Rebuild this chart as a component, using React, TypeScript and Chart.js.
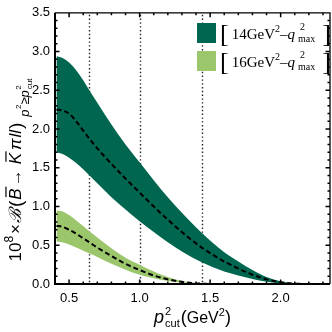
import React, { useEffect, useRef } from "react";
import { Chart, registerables } from "chart.js";
Chart.register(...registerables);

// ---- data ----
const xDark = [0.41, 0.45, 0.5, 0.55, 0.6, 0.65, 0.7, 0.8, 0.9, 1.0, 1.1, 1.2, 1.3, 1.44, 1.6, 1.7, 1.8, 1.9, 2.0, 2.1, 2.2];
const darkUpper = [2.94, 2.92, 2.86, 2.76, 2.63, 2.48, 2.34, 2.06, 1.80, 1.57, 1.34, 1.12, 0.92, 0.66, 0.41, 0.29, 0.18, 0.09, 0.035, 0.008, 0];
const darkCenter = [2.25, 2.24, 2.20, 2.10, 1.98, 1.86, 1.75, 1.55, 1.36, 1.18, 1.00, 0.83, 0.67, 0.47, 0.29, 0.20, 0.12, 0.06, 0.022, 0.005, 0];
const darkLower = [1.70, 1.68, 1.63, 1.56, 1.48, 1.39, 1.30, 1.12, 0.96, 0.81, 0.67, 0.54, 0.42, 0.28, 0.16, 0.11, 0.065, 0.03, 0.01, 0.002, 0];

const xLight = [0.41, 0.45, 0.5, 0.55, 0.6, 0.65, 0.7, 0.8, 0.9, 1.0, 1.1, 1.2, 1.3, 1.4, 1.5];
const lightUpper = [0.95, 0.94, 0.89, 0.82, 0.75, 0.67, 0.60, 0.46, 0.34, 0.25, 0.16, 0.09, 0.04, 0.012, 0];
const lightCenter = [0.75, 0.74, 0.70, 0.65, 0.59, 0.53, 0.47, 0.36, 0.26, 0.18, 0.11, 0.06, 0.028, 0.008, 0];
const lightLower = [0.55, 0.54, 0.51, 0.47, 0.43, 0.39, 0.35, 0.26, 0.185, 0.12, 0.075, 0.04, 0.018, 0.005, 0];

const cutLines = [0.64, 1.0, 1.44];
const xMajorTicks = [0.5, 1.0, 1.5, 2.0];
const yMajorTicks = [0, 0.5, 1.0, 1.5, 2.0, 2.5, 3.0, 3.5];
const legendLabels = ["14", "16"];

const DARK = "#00664f";
const LIGHT = "#9cc66c";
const SANS = "'Liberation Sans', Arial, sans-serif";
const SERIF = "'Liberation Serif', 'Times New Roman', serif";

type Seg = { t: string; size: number; family?: string; style?: string; dy?: number; over?: boolean; noAdv?: boolean; dx?: number };

function segFont(s: Seg) {
  return `${s.style || "normal"} ${s.size}px ${s.family || SANS}`;
}
function richWidth(ctx: CanvasRenderingContext2D, segs: Seg[]) {
  let w = 0;
  for (const s of segs) {
    ctx.font = segFont(s);
    w += s.dx || 0;
    if (!s.noAdv) w += ctx.measureText(s.t).width;
  }
  return w;
}
function drawRich(ctx: CanvasRenderingContext2D, segs: Seg[], x: number, y: number, align: string) {
  const w = richWidth(ctx, segs);
  let cx = align === "center" ? x - w / 2 : align === "right" ? x - w : x;
  ctx.textBaseline = "alphabetic";
  ctx.textAlign = "left";
  for (const s of segs) {
    ctx.font = segFont(s);
    cx += s.dx || 0;
    const sw = ctx.measureText(s.t).width;
    ctx.fillText(s.t, cx, y + (s.dy || 0));
    if (s.over) {
      ctx.fillRect(cx + s.size * 0.15, y + (s.dy || 0) - s.size * 0.92, sw - s.size * 0.05, Math.max(1, s.size * 0.07));
    }
    if (!s.noAdv) cx += sw;
  }
}

export default function App() {
  const ref = useRef<HTMLCanvasElement>(null);
  useEffect(() => {
    document.body.style.margin = "0";
    const canvas = ref.current!;
    const pts = (xs: number[], ys: number[]) => xs.map((x, i) => ({ x, y: ys[i] }));

    const custom = {
      id: "custom",
      beforeDatasetsDraw(chart: any) {
        const { ctx, chartArea: a, scales } = chart;
        ctx.save();
        ctx.strokeStyle = "#222";
        ctx.lineWidth = 1.4;
        ctx.setLineDash([1.4, 2.4]);
        for (const v of cutLines) {
          const px = Math.round(scales.x.getPixelForValue(v)) + 0.5;
          ctx.beginPath();
          ctx.moveTo(px, a.top + 2);
          ctx.lineTo(px, a.bottom);
          ctx.stroke();
        }
        ctx.restore();
      },
      afterDraw(chart: any) {
        const { ctx, chartArea: a, scales } = chart;
        ctx.save();
        // frame
        ctx.strokeStyle = "#000";
        ctx.lineWidth = 2;
        ctx.beginPath();
        ctx.moveTo(a.left, a.top);
        ctx.lineTo(a.left, a.bottom);
        ctx.lineTo(a.right, a.bottom);
        ctx.stroke();
        ctx.lineWidth = 1.3;
        ctx.beginPath();
        ctx.moveTo(a.left, a.top);
        ctx.lineTo(a.right, a.top);
        ctx.lineTo(a.right, a.bottom);
        ctx.stroke();
        // ticks
        ctx.lineWidth = 1.5;
        const xs = scales.x, ys = scales.y;
        for (let i = 5; i <= 23; i++) {
          const v = i / 10;
          const major = i % 5 === 0;
          const L = major ? 4.5 : 2.5;
          const px = xs.getPixelForValue(v);
          ctx.beginPath();
          ctx.moveTo(px, a.bottom); ctx.lineTo(px, a.bottom - L);
          ctx.moveTo(px, a.top); ctx.lineTo(px, a.top + L);
          ctx.stroke();
        }
        for (let i = 1; i < 35; i++) {
          const v = i / 10;
          const major = i % 5 === 0;
          const L = major ? 4.5 : 2.5;
          const py = ys.getPixelForValue(v);
          ctx.beginPath();
          ctx.moveTo(a.left, py); ctx.lineTo(a.left + L, py);
          ctx.moveTo(a.right, py); ctx.lineTo(a.right - L, py);
          ctx.stroke();
        }
        ctx.fillStyle = "#000";
        // x title
        drawRich(ctx, [
          { t: "p", size: 18, style: "italic" },
          { t: "2", size: 11, dy: -8, noAdv: true, dx: 1 },
          { t: "cut", size: 11, dy: 4, dx: 0 },
          { t: "(", size: 18, dx: 1 },
          { t: "GeV", size: 16 },
          { t: "2", size: 11, dy: -7 },
          { t: ")", size: 18 },
        ], (a.left + a.right) / 2, 323, "center");
        // y title (rotated)
        ctx.save();
        ctx.translate(21, 170);
        ctx.rotate(-Math.PI / 2);
        drawRich(ctx, [
          { t: "10", size: 17 },
          { t: "8", size: 12, dy: -8 },
          { t: "\u00d7", size: 17, dx: 2 },
          { t: "\u212c", size: 17, style: "italic", family: "'DejaVu Serif', serif", dx: 1 },
          { t: "(", size: 19, dx: 2, dy: 1 },
          { t: "B", size: 17, style: "italic", over: true, dx: 1 },
          { t: "\u2192", size: 17, dx: 2 },
          { t: "K", size: 17, style: "italic", over: true, dx: 5 },
          { t: "\u03c0", size: 17, style: "italic", dx: 3 },
          { t: "ll", size: 17, style: "italic", dx: 1 },
          { t: ")", size: 19, dy: 1, dx: 1 },
          { t: "p", size: 13, style: "italic", dy: 8, dx: 6 },
          { t: "2", size: 8, dy: 0, dx: 0.5 },
          { t: "\u2265", size: 13, dy: 8 },
          { t: "p", size: 13, style: "italic", dy: 8 },
          { t: "2", size: 8, dy: 0, noAdv: true, dx: 0.5 },
          { t: "cut", size: 8, dy: 11, dx: 0.5 },
        ], 0, 0, "center");
        ctx.restore();
        // legend
        const colors = [DARK, LIGHT];
        for (let i = 0; i < 2; i++) {
          const y0 = 23 + i * 28;
          ctx.fillStyle = colors[i];
          ctx.fillRect(197, y0, 19, 20);
          ctx.fillStyle = "#000";
          const base = y0 + 16;
          drawRich(ctx, [
            { t: "[", size: 26, family: SERIF, dy: 3 },
            { t: legendLabels[i] + "GeV", size: 15, family: SERIF, dx: 3 },
            { t: "2", size: 10, family: SERIF, dy: -7 },
            { t: "\u2013", size: 15, family: SERIF },
            { t: "q", size: 15, family: SERIF, style: "italic" },
            { t: "2", size: 10, family: SERIF, dy: -9, noAdv: true, dx: 5 },
            { t: "max", size: 10, family: SERIF, dy: 3, dx: -2 },
            { t: "]", size: 26, family: SERIF, dy: 3, dx: 7 },
          ], 220, base, "left");
        }
        ctx.restore();
      },
    };

    const chart = new Chart(canvas, {
      type: "line",
      data: {
        datasets: [
          { data: pts(xDark, darkUpper), order: 4, borderWidth: 0, pointRadius: 0, backgroundColor: DARK, fill: "+1", borderColor: DARK },
          { data: pts(xDark, darkLower), order: 4, borderWidth: 0, pointRadius: 0, fill: false, borderColor: DARK },
          { data: pts(xLight, lightUpper), order: 3, borderWidth: 0, pointRadius: 0, backgroundColor: LIGHT, fill: "+1", borderColor: LIGHT },
          { data: pts(xLight, lightLower), order: 3, borderWidth: 0, pointRadius: 0, fill: false, borderColor: LIGHT },
          { data: pts(xDark, darkCenter), order: 1, borderWidth: 2, borderDash: [5, 3], pointRadius: 0, fill: false, borderColor: "#000" },
          { data: pts(xLight, lightCenter), order: 1, borderWidth: 2, borderDash: [5, 3], pointRadius: 0, fill: false, borderColor: "#000" },
        ] as any,
      },
      options: {
        animation: false,
        responsive: false,
        devicePixelRatio: 1,
        elements: { line: { cubicInterpolationMode: "monotone" } },
        layout: { padding: { top: 9, right: 2, left: 0, bottom: 0 } },
        plugins: { legend: { display: false }, tooltip: { enabled: false } },
        scales: {
          x: {
            type: "linear",
            min: 0.4,
            max: 2.35,
            grid: { display: false, drawTicks: false },
            border: { display: false },
            afterBuildTicks: (s: any) => { s.ticks = xMajorTicks.map((v) => ({ value: v })); },
            afterFit: (s: any) => { s.height = 48; },
            ticks: { color: "#000", font: { family: SANS, size: 13 }, padding: 7, maxRotation: 0, callback: (v: any) => Number(v).toFixed(1) },
          },
          y: {
            type: "linear",
            min: 0,
            max: 3.5,
            grid: { display: false, drawTicks: false },
            border: { display: false },
            afterBuildTicks: (s: any) => { s.ticks = yMajorTicks.map((v) => ({ value: v })); },
            afterFit: (s: any) => { s.width = 55; },
            ticks: { color: "#000", font: { family: SANS, size: 13 }, padding: 5, callback: (v: any) => Number(v).toFixed(1) },
          },
        },
      } as any,
      plugins: [custom],
    });
    return () => chart.destroy();
  }, []);
  return (
    <div style={{ width: 332, height: 332 }}>
      <canvas ref={ref} width={332} height={332} style={{ display: "block" }} />
    </div>
  );
}
